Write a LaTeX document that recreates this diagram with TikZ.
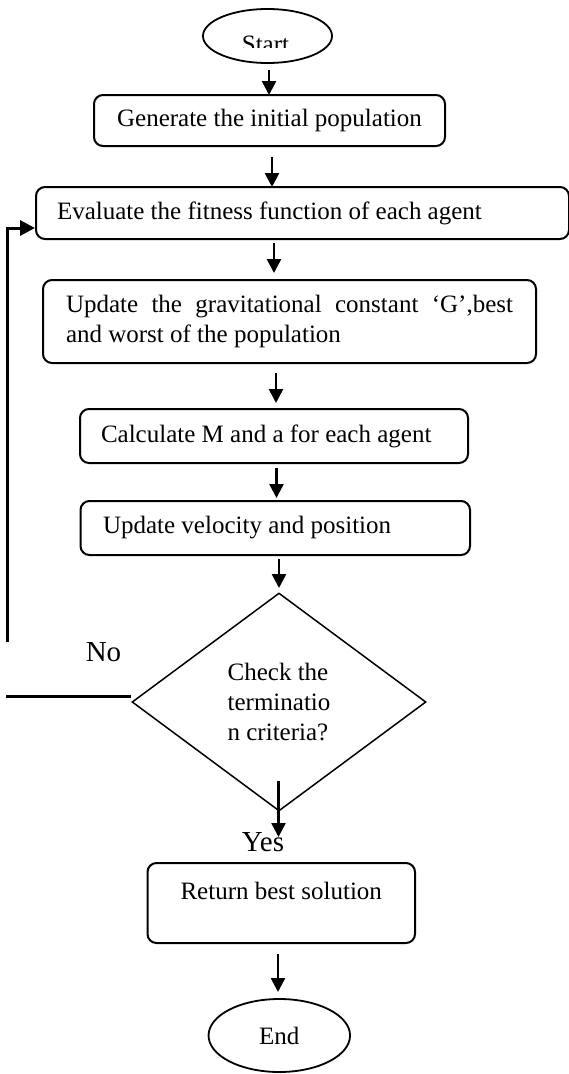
\documentclass[tikz,border=0pt]{standalone}
\usepackage{fontspec}
\setmainfont{Liberation Serif}
\usetikzlibrary{shapes.geometric,arrows.meta,calc}
\begin{document}
\begin{tikzpicture}[x=1pt,y=-1pt,
  txt/.style={font=\fontsize{25pt}{30pt}\selectfont},
  box/.style={draw, line width=2pt, rounded corners=9pt, inner ysep=0pt, txt},
  oval/.style={draw, ellipse, line width=1.8pt, inner sep=0pt, txt},
  arr/.style={line width=2.5pt, -{Triangle[length=14pt,width=14pt]}},
  big/.style={font=\fontsize{29pt}{34pt}\selectfont, inner sep=0pt}
]
\useasboundingbox (0,0) rectangle (569,1074);

% start
\node[oval, minimum width=129pt, minimum height=54pt] (start) at (267.5,36) {};
\begin{scope}
  \clip (200,0) rectangle (340,47);
  \node[txt, anchor=base, inner sep=0pt] (starttxt) at (265.5,52) {Start};
\end{scope}

% boxes
\node[box, minimum width=351pt, minimum height=51pt, inner xsep=0pt] (gen) at (269.5,120.5) {Generate the initial population};
\node[box, minimum height=52pt, inner xsep=21pt, text width=491pt, align=flush left] (eval) at (302.5,213) {Evaluate the fitness function of each agent};
\node[box, minimum height=83pt, inner xsep=23pt, text width=447pt, align=flush left] (upd) at (289.5,321.5) {\makebox[447pt][s]{Update the gravitational constant ‘G’,best}\\and worst of the population};
\node[box, minimum height=54pt, inner xsep=21pt, text width=346pt, align=flush left] (calc) at (274,436) {Calculate M and a for each agent};
\node[box, minimum height=54pt, inner xsep=22.5pt, text width=344.5pt, align=flush left] (vel) at (275.25,528) {Update velocity and position};

% decision
\node[draw, diamond, line width=1.5pt, minimum width=294pt, minimum height=218pt, inner sep=0pt, align=flush left, txt] (chk) at (279,702) {Check the\\terminatio\\n criteria?};

\node[box, minimum width=267.5pt, minimum height=80pt, inner xsep=0pt, text height=17pt, text depth=25pt] (ret) at (281.25,903) {Return best solution};

\node[oval, minimum width=141.5pt, minimum height=73pt] (end) at (279.3,1035.5) {End};

% labels
\node[big] (no) at (103.5,652) {No};
\node[big] (yes) at (263,842) {Yes};

% arrows
\coordinate (a1s) at (269,70);   \coordinate (a1e) at (269,95);
\coordinate (a2s) at (272,157);  \coordinate (a2e) at (272,187);
\coordinate (a3s) at (274,243);  \coordinate (a3e) at (274,273);
\coordinate (a4s) at (276,373);  \coordinate (a4e) at (276,403);
\coordinate (a5s) at (276.5,468);\coordinate (a5e) at (276.5,498);
\coordinate (a6s) at (279,559);  \coordinate (a6e) at (279,588);
\coordinate (a7s) at (278.5,781);\coordinate (a7e) at (278.5,837);
\coordinate (a8s) at (278,954);  \coordinate (a8e) at (278,992);
\foreach \i in {1,...,8} { \draw[arr] (a\i s) -- (a\i e); }

% feedback loop
\coordinate (fb0) at (7,642);
\draw[line width=3pt, -{Triangle[length=15pt,width=15pt]}] (fb0) |- ($(eval.west)+(0,15)$);
\coordinate (nol) at (6,696);
\draw[line width=3pt] ($(chk.west)+(0,-6)$) -- (nol);
\end{tikzpicture}
\end{document}
